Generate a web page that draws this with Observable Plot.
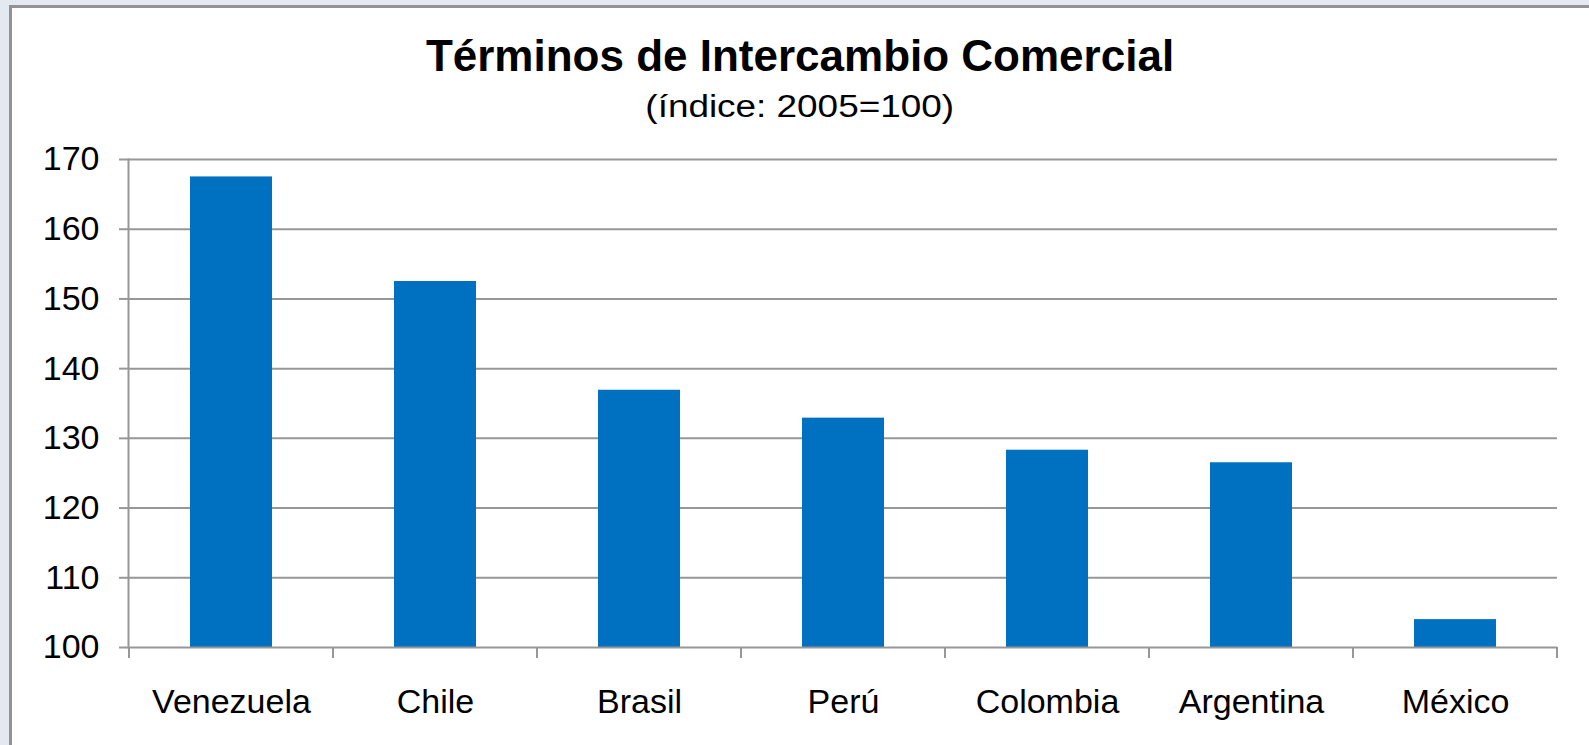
<!DOCTYPE html>
<html>
<head>
<meta charset="utf-8">
<script src="https://cdn.jsdelivr.net/npm/d3@7"></script>
<script src="https://cdn.jsdelivr.net/npm/@observablehq/plot@0.6"></script>
<style>
  html, body { margin: 0; padding: 0; width: 1589px; height: 745px; overflow: hidden; background: #e4e9f1; }
  #frame { position: absolute; left: 9px; top: 5px; width: 1700px; height: 900px; background: #fff;
           border-left: 3px solid #929292; border-top: 3px solid #929292; box-sizing: border-box; }
  .t { position: absolute; left: 0; width: 1600px; text-align: center; font-family: "Liberation Sans", Arial, sans-serif; color: #000; line-height: 1; white-space: nowrap; }
  #title { top: 34px; font-size: 44px; font-weight: bold; }
  #subtitle { top: 91px; font-size: 31px; }
  #subtitle span { display: inline-block; transform: scaleX(1.19); }
  #chart { position: absolute; left: 0; top: 130px; }
</style>
</head>
<body>
<div id="frame"></div>
<div class="t" id="title">Términos de Intercambio Comercial</div>
<div class="t" id="subtitle"><span>(índice: 2005=100)</span></div>
<div id="chart"></div>
<script>
const countries = ["Venezuela", "Chile", "Brasil", "Perú", "Colombia", "Argentina", "México"];
const values = [167.5, 152.5, 136.9, 132.9, 128.3, 126.5, 104.0];
const yTicks = [100, 110, 120, 130, 140, 150, 160, 170];

const data = countries.map((c, i) => ({country: c, value: values[i]}));
const gray = "#979797";

function boundaryTicks(index, scales, values, dims) {
  const x = scales.x, y = scales.y;
  const bw = typeof x.bandwidth === "function" ? x.bandwidth() : x.bandwidth;
  const step = x(countries[1]) - x(countries[0]);
  const gap = (step - bw) / 2;
  const xs = countries.map(c => x(c) - gap);
  xs.push(x(countries[countries.length - 1]) + bw + gap);
  const y0 = y(100);
  const g = d3.create("svg:g");
  g.selectAll("line").data(xs).join("line")
    .attr("x1", d => d).attr("x2", d => d)
    .attr("y1", y0).attr("y2", y0 + 11)
    .attr("stroke", gray).attr("stroke-width", 2);
  return g.node();
}

const chart = Plot.plot({
  width: 1589,
  height: 615,
  marginLeft: 128,
  marginRight: 32,
  marginTop: 29,
  marginBottom: 98,
  style: {fontFamily: "'Liberation Sans', Arial, sans-serif", fontSize: "34px", color: "#000", background: "transparent", overflow: "visible"},
  x: {domain: countries, paddingInner: 0.6, paddingOuter: 0.3, label: null},
  y: {domain: [100, 170], label: null},
  marks: [
    Plot.ruleY(yTicks.filter(v => v > 100), {stroke: gray, strokeWidth: 2, strokeOpacity: 1}),
    Plot.barY(data, {x: "country", y1: 100, y2: "value", fill: "#0070c0"}),
    Plot.ruleY([100], {stroke: gray, strokeWidth: 2, strokeOpacity: 1}),
    Plot.frame({anchor: "left", stroke: gray, strokeWidth: 2, strokeOpacity: 1}),
    boundaryTicks,
    Plot.axisY({ticks: yTicks, tickSize: 9, tickPadding: 20, stroke: gray, strokeWidth: 2, strokeOpacity: 1, fontSize: 34, fill: "#000", label: null}),
    Plot.axisX({tickSize: 0, tickPadding: 41, fontSize: 34, fill: "#000", label: null})
  ]
});
document.getElementById("chart").appendChild(chart);
</script>
</body>
</html>
